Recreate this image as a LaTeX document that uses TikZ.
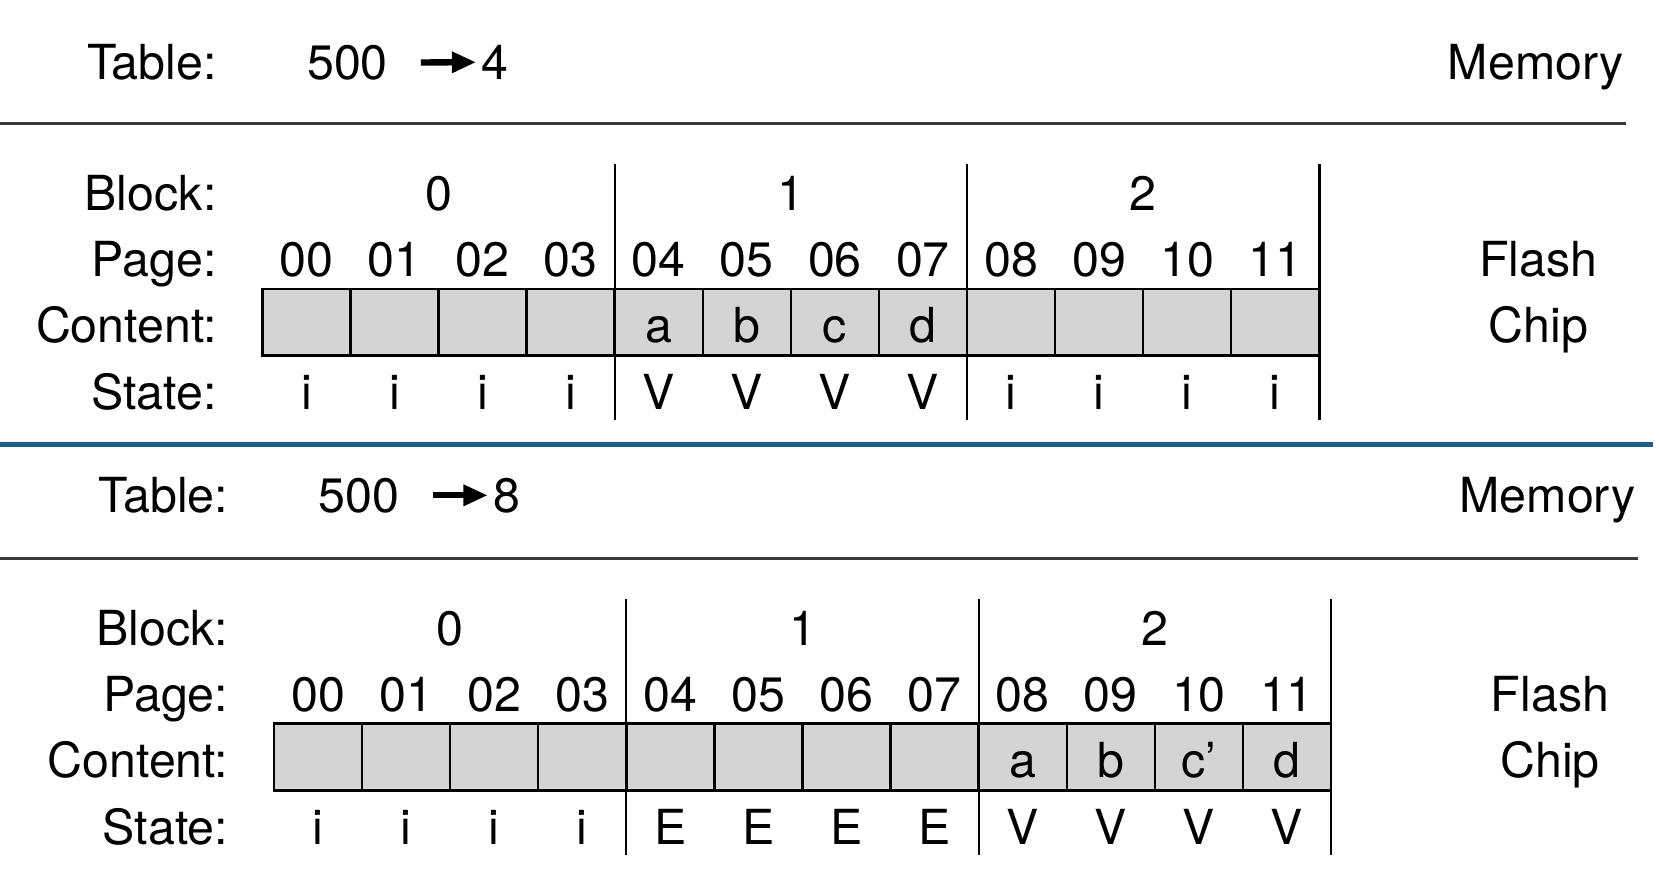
\documentclass[tikz,border=0pt]{standalone}
\usepackage{fontspec}
\setmainfont{TeX Gyre Heros}
\usepackage{xcolor}
\usepackage{tikz}
\usetikzlibrary{arrows.meta}
\definecolor{cellgray}{HTML}{D4D4D4}
\definecolor{divblue}{HTML}{1D5F82}
\definecolor{rulegray}{HTML}{3A3A3A}

\begin{document}
\begin{tikzpicture}[
  x=0.02cm,y=0.02cm,font=\fontsize{26}{30}\selectfont,
  lbl/.style={anchor=base east,inner sep=0pt},
  txt/.style={anchor=base,inner sep=0pt},
  cell/.style={draw,line width=1.3pt,fill=cellgray,minimum width=1.665cm,minimum height=1.26cm,inner sep=0pt},
  rule/.style={rulegray,line width=1.6pt},
  sep/.style={line width=1.2pt},
  ar/.style={-{Triangle[length=0.46cm,width=0.38cm]},line width=3.4pt}
]
\useasboundingbox (0,0) rectangle (1568,822);

% upper state: before the rewrite
\node[lbl] (utab) at (205,747) {Table:};
\node[txt,anchor=base west] (ukey) at (290,747) {500};
\node[txt,anchor=base west] (uval) at (455,747) {4};
\draw[ar,shorten <=0.62cm,shorten >=0.1cm] (ukey.east) -- (uval.west);
\node[lbl] (umem) at (1535,747) {Memory};
\draw[rule] (0,705) -- (1537,705);
\node[lbl] (ublock) at (205,623) {Block:};
\node[lbl] (upage) at (205,561) {Page:};
\node[lbl] (ucont) at (205,498) {Content:};
\node[lbl] (ustate) at (205,435) {State:};
\foreach \b in {0,1,2}
  \node[txt] (ublk\b) at ({414.5+333*\b},623) {\b};
\foreach \p/\s/\c [count=\i from 0] in {00/i/,01/i/,02/i/,03/i/,04/V/a,05/V/b,06/V/c,07/V/d,08/i/,09/i/,10/i/,11/i/} {
  \node[txt] (upg\i) at ({289.6+83.25*\i},561) {\p};
  \node[cell] (ucl\i) at ({289.6+83.25*\i},517.5) {};
  \node[txt] (uct\i) at ({289.6+83.25*\i},498) {\c};
  \node[txt] (ust\i) at ({289.6+83.25*\i},435) {\s};
}
\foreach \b in {1,2,3}
  \draw[sep] ({248+333*\b},667) -- ({248+333*\b},425);
\node[txt] (uflash) at (1454,561) {Flash};
\node[txt] (uchip) at (1454,498) {Chip};

\draw[divblue,line width=2.6pt] (0,402) -- (1562,402);

% lower state: after the rewrite
\begin{scope}[shift={(11,-411)}]
\node[lbl] (ltab) at (205,749) {Table:};
\node[txt,anchor=base west] (lkey) at (290,749) {500};
\node[txt,anchor=base west] (lval) at (455,749) {8};
\draw[ar,shorten <=0.62cm,shorten >=0.1cm] (lkey.east) -- (lval.west);
\node[lbl] (lmem) at (1535,749) {Memory};
\draw[rule] (-11,705) -- (1537,705);
\node[lbl] (lblock) at (205,623) {Block:};
\node[lbl] (lpage) at (205,561) {Page:};
\node[lbl] (lcont) at (205,498) {Content:};
\node[lbl] (lstate) at (205,435) {State:};
\foreach \b in {0,1,2}
  \node[txt] (lblk\b) at ({414.5+333*\b},623) {\b};
\foreach \p/\s/\c [count=\i from 0] in {00/i/,01/i/,02/i/,03/i/,04/E/,05/E/,06/E/,07/E/,08/V/a,09/V/b,10/V/c',11/V/d} {
  \node[txt] (lpg\i) at ({289.6+83.25*\i},561) {\p};
  \node[cell] (lcl\i) at ({289.6+83.25*\i},517.5) {};
  \node[txt] (lct\i) at ({289.6+83.25*\i},498) {\c};
  \node[txt] (lst\i) at ({289.6+83.25*\i},435) {\s};
}
\foreach \b in {1,2,3}
  \draw[sep] ({248+333*\b},667) -- ({248+333*\b},425);
\node[txt] (lflash) at (1454,561) {Flash};
\node[txt] (lchip) at (1454,498) {Chip};
\end{scope}
\end{tikzpicture}
\end{document}
